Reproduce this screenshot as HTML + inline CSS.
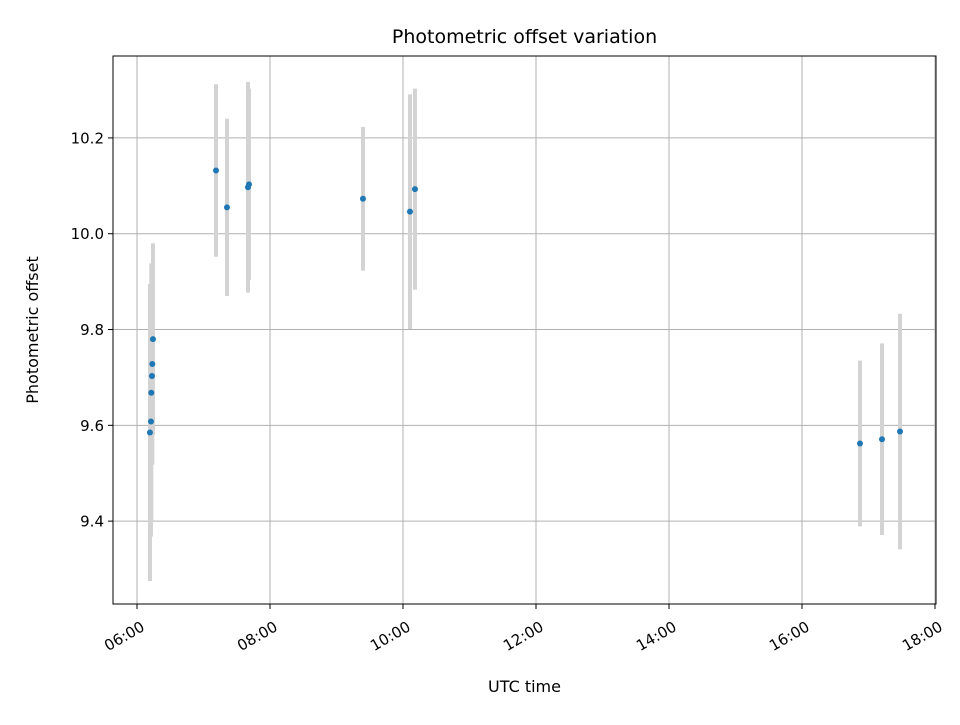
<!DOCTYPE html>
<html><head><meta charset="utf-8"><style>
body{margin:0;background:#fff;}
svg text{font-family:"DejaVu Sans","Liberation Sans",sans-serif;fill:#000;}
</style></head><body>
<svg id="chart" width="960" height="720" xmlns="http://www.w3.org/2000/svg">
<rect width="960" height="720" fill="#fff"/>
<g id="grid"></g><g id="errs"></g><g id="pts"></g><g id="axes"></g>
<text x="524.5" y="43" font-size="19px" text-anchor="middle">Photometric offset variation</text>
<text x="524.5" y="692" font-size="16px" text-anchor="middle">UTC time</text>
<text transform="translate(38,330) rotate(-90)" font-size="16px" text-anchor="middle">Photometric offset</text>
</svg>
<script>
const times=[6.195,6.21,6.215,6.225,6.23,6.24,7.188,7.353,7.669,7.684,9.398,10.105,10.18,16.872,17.203,17.474];
const values=[9.585,9.608,9.668,9.703,9.728,9.78,10.132,10.055,10.097,10.103,10.073,10.046,10.093,9.562,9.571,9.587];
const errors=[0.31,0.24,0.27,0.17,0.21,0.2,0.18,0.185,0.22,0.2,0.15,0.245,0.21,0.173,0.2,0.246];
const xTicks=[6,8,10,12,14,16,18];
const xTickLabels=["06:00","08:00","10:00","12:00","14:00","16:00","18:00"];
const yTicks=[9.4,9.6,9.8,10.0,10.2];
const yTickLabels=["9.4","9.6","9.8","10.0","10.2"];
const L=113,R=936,T=56,B=604;
const x0=5.639,x1=18.015,y0=9.227,y1=10.371;
const X=h=>L+(h-x0)/(x1-x0)*(R-L);
const Y=v=>B-(v-y0)/(y1-y0)*(B-T);
const NS="http://www.w3.org/2000/svg";
function mk(tag,attrs,parent){const e=document.createElementNS(NS,tag);for(const k in attrs)e.setAttribute(k,attrs[k]);document.getElementById(parent).appendChild(e);return e;}
xTicks.forEach((t,i)=>{
 const x=X(t);
 const g=mk('line',{x1:x,x2:x,y1:T,y2:B,stroke:'#b0b0b0','stroke-width':1},'grid');
 
 
 const tk=mk('line',{x1:x,x2:x,y1:B,y2:B+5,stroke:'#000','stroke-width':1},'axes');
 
 
 const tx=mk('text',{transform:`translate(${x+3},${B+16}) rotate(-30)`,'font-size':'15px','text-anchor':'end','dominant-baseline':'hanging'},'axes');
 tx.textContent=xTickLabels[i];
 
 
});
yTicks.forEach((t,i)=>{
 const y=Y(t);
 const g=mk('line',{x1:L,x2:R,y1:y,y2:y,stroke:'#b0b0b0','stroke-width':1},'grid');
 
 
 const tk=mk('line',{x1:L-5,x2:L,y1:y,y2:y,stroke:'#000','stroke-width':1},'axes');
 
 
 const tx=mk('text',{x:L-9,y:y+5.5,'font-size':'15px','text-anchor':'end'},'axes');
 tx.textContent=yTickLabels[i];
 
 
});
const frame=mk('rect',{x:L,y:T,width:R-L,height:B-T,fill:'none',stroke:'#000','stroke-width':1},'axes');


times.forEach((t,i)=>{
 const x=X(t);
 const e=mk('line',{x1:x,x2:x,y1:Y(values[i]+errors[i]),y2:Y(values[i]-errors[i]),stroke:'#d3d3d3','stroke-width':4},'errs');
 
 
 const p=mk('circle',{cx:x,cy:Y(values[i]),r:3,fill:'#1f77b4'},'pts');
 
 
});
</script>
</body></html>
